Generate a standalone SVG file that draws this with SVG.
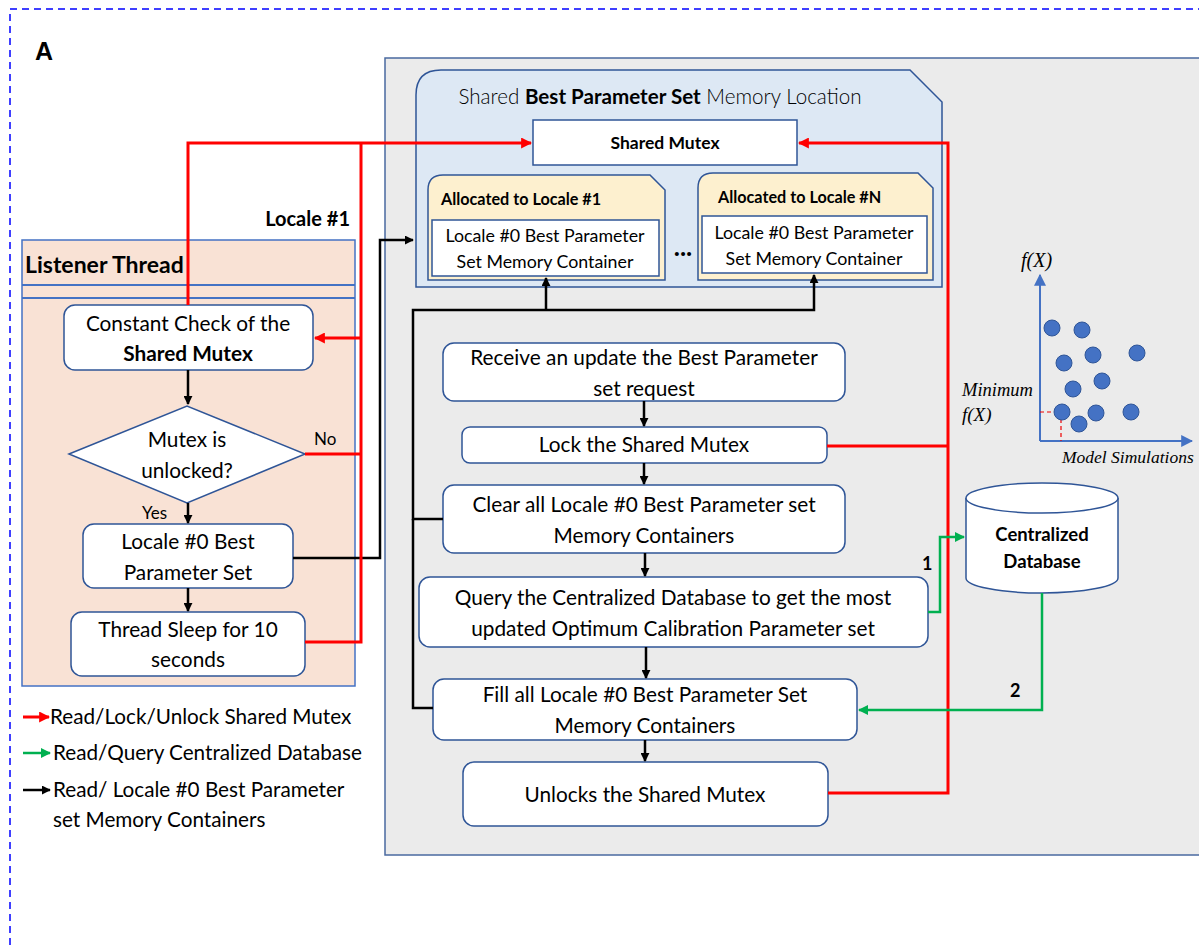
<svg xmlns="http://www.w3.org/2000/svg" width="1199" height="950" viewBox="0 0 1199 950">
<defs>
<marker id="ab" viewBox="0 0 10 10" refX="9" refY="5" markerWidth="9" markerHeight="9" markerUnits="userSpaceOnUse" orient="auto"><path d="M0,0 L10,5 L0,10 Z" fill="#000"/></marker>
<marker id="ar" viewBox="0 0 10 10" refX="9" refY="5" markerWidth="11" markerHeight="11" markerUnits="userSpaceOnUse" orient="auto"><path d="M0,0 L10,5 L0,10 Z" fill="#f00"/></marker>
<marker id="ag" viewBox="0 0 10 10" refX="9" refY="5" markerWidth="10" markerHeight="10" markerUnits="userSpaceOnUse" orient="auto"><path d="M0,0 L10,5 L0,10 Z" fill="#00b050"/></marker>
<marker id="abl" viewBox="0 0 10 10" refX="9" refY="5" markerWidth="12" markerHeight="12" markerUnits="userSpaceOnUse" orient="auto"><path d="M0,0 L10,5 L0,10 Z" fill="#4472c4"/></marker>
</defs>
<style>
text{font-family:Lato,"Liberation Sans",sans-serif;fill:#000}
.t{font-size:20.8px;text-anchor:middle}
.b{font-weight:bold}
.box{fill:#fff;stroke:#2f5597;stroke-width:1.5}
.red{fill:none;stroke:#f00;stroke-width:3}
.blk{fill:none;stroke:#000;stroke-width:2.5}
.grn{fill:none;stroke:#00b050;stroke-width:2.5}
.it{font-family:"Liberation Serif",serif;font-style:italic}
.dot{fill:#4472c4;stroke:#2f5597;stroke-width:1}
</style>
<rect x="0" y="0" width="1199" height="950" fill="#fff"/>
<rect x="10" y="9" width="1250" height="1000" fill="none" stroke="#0000ff" stroke-width="1.5" stroke-dasharray="7,5"/>
<text x="35" y="60" font-size="25" class="b" style="font-family:'Liberation Sans',sans-serif">A</text>

<g id="main-panel">
<rect x="385" y="58" width="830" height="797" fill="#ebebeb" stroke="#4a6aa0" stroke-width="1.5"/>
</g>

<g id="shared-memory">
<path d="M416,95 Q416,70 441,70 L910,70 L942,102 L942,287 L416,287 Z" fill="#dde8f4" stroke="#2f5597" stroke-width="1.5"/>
<text x="660" y="104" font-size="20.6" text-anchor="middle" style="font-weight:300" fill="#222">Shared <tspan class="b" style="font-weight:bold">Best Parameter Set</tspan> Memory Location</text>
</g>
<g id="shared-mutex">
<rect x="533" y="120" width="264" height="45" class="box"/>
<text x="665" y="149" font-size="17.5" class="b" text-anchor="middle">Shared Mutex</text>
</g>
<g id="alloc1">
<path d="M428,190 Q428,175 443,175 L650,175 L665,190 L665,280 L428,280 Z" fill="#fdf0cf" stroke="#2f5597" stroke-width="1.5"/>
<text x="441" y="205" font-size="16.2" class="b">Allocated to Locale #1</text>
<rect x="432" y="220" width="227" height="56" class="box"/>
<text x="545" y="242" font-size="17.8" text-anchor="middle">Locale #0 Best Parameter</text>
<text x="545" y="268" font-size="17.8" text-anchor="middle">Set Memory Container</text>
</g>
<text x="683" y="256" font-size="26" class="b" text-anchor="middle">...</text>
<g id="allocN">
<path d="M698,188 Q698,173 713,173 L918,173 L933,188 L933,280 L698,280 Z" fill="#fdf0cf" stroke="#2f5597" stroke-width="1.5"/>
<text x="718" y="203" font-size="16.2" class="b">Allocated to Locale #N</text>
<rect x="702" y="216" width="225" height="57" class="box"/>
<text x="814" y="239" font-size="17.8" text-anchor="middle">Locale #0 Best Parameter</text>
<text x="814" y="265" font-size="17.8" text-anchor="middle">Set Memory Container</text>
</g>

<text x="350" y="226" font-size="20" class="b" text-anchor="end">Locale #1</text>
<g id="listener-thread">
<rect x="22" y="240" width="333" height="446" fill="#f9e2d5" stroke="#4472c4" stroke-width="1.5"/>
<line x1="22" y1="285" x2="355" y2="285" stroke="#4472c4" stroke-width="2"/>
<line x1="22" y1="298" x2="355" y2="298" stroke="#4472c4" stroke-width="2"/>
<text x="25" y="273" font-size="23" class="b">Listener Thread</text>
</g>

<g id="constant-check">
<rect x="64" y="305" width="249" height="65" rx="11" class="box"/>
<text x="188" y="331" class="t">Constant Check of the</text>
<text x="188" y="361" class="t b">Shared Mutex</text>
</g>
<g id="mutex-decision">
<polygon points="69,454 187,406 305,454 187,503" fill="#fff" stroke="#2f5597" stroke-width="1.5"/>
<text x="187" y="447" class="t">Mutex is</text>
<text x="187" y="478" class="t">unlocked?</text>
<text x="314" y="445" font-size="17">No</text>
<text x="142" y="519" font-size="17">Yes</text>
</g>
<g id="locale0-set">
<rect x="83" y="524" width="210" height="64" rx="11" class="box"/>
<text x="188" y="549" class="t">Locale #0 Best</text>
<text x="188" y="580" class="t">Parameter Set</text>
</g>
<g id="thread-sleep">
<rect x="71" y="612" width="234" height="64" rx="11" class="box"/>
<text x="188" y="637" class="t">Thread Sleep for 10</text>
<text x="188" y="667" class="t">seconds</text>
</g>

<g id="receive">
<rect x="443" y="343" width="402" height="58" rx="11" class="box"/>
<text x="644" y="365" class="t">Receive an update the Best Parameter</text>
<text x="644" y="396" class="t">set request</text>
</g>
<g id="lock">
<rect x="462" y="427" width="365" height="36" rx="8" class="box"/>
<text x="644" y="452" class="t">Lock the Shared Mutex</text>
</g>
<g id="clear">
<rect x="443" y="485" width="402" height="68" rx="11" class="box"/>
<text x="644" y="512" class="t">Clear all Locale #0 Best Parameter set</text>
<text x="644" y="543" class="t">Memory Containers</text>
</g>
<g id="query">
<rect x="419" y="577" width="509" height="70" rx="11" class="box"/>
<text x="673" y="605" class="t">Query the Centralized Database to get the most</text>
<text x="673" y="636" class="t">updated Optimum Calibration Parameter set</text>
</g>
<g id="fill">
<rect x="433" y="679" width="424" height="61" rx="11" class="box"/>
<text x="645" y="702" class="t">Fill all Locale #0 Best Parameter Set</text>
<text x="645" y="733" class="t">Memory Containers</text>
</g>
<g id="unlock">
<rect x="463" y="762" width="365" height="64" rx="11" class="box"/>
<text x="645" y="802" class="t">Unlocks the Shared Mutex</text>
</g>

<g id="database">
<path d="M966,498 L966,578 A76,15 0 0 0 1118,578 L1118,498" fill="#fff" stroke="#2f5597" stroke-width="1.5"/>
<ellipse cx="1042" cy="498" rx="76" ry="15" fill="#fff" stroke="#2f5597" stroke-width="1.5"/>
<text x="1042" y="541" font-size="18.5" class="b" text-anchor="middle">Centralized</text>
<text x="1042" y="568" font-size="18.5" class="b" text-anchor="middle">Database</text>
</g>

<g id="scatter">
<line x1="1040" y1="441" x2="1040" y2="275" stroke="#4472c4" stroke-width="2" marker-end="url(#abl)"/>
<line x1="1040" y1="441" x2="1192" y2="441" stroke="#4472c4" stroke-width="2" marker-end="url(#abl)"/>
<polyline points="1040,412 1061,412 1061,441" fill="none" stroke="#e00" stroke-width="1.2" stroke-dasharray="4,3"/>
<circle cx="1052" cy="328" r="8" class="dot"/>
<circle cx="1082" cy="330" r="8" class="dot"/>
<circle cx="1093" cy="355" r="8" class="dot"/>
<circle cx="1064" cy="363" r="8" class="dot"/>
<circle cx="1137" cy="353" r="8" class="dot"/>
<circle cx="1102" cy="381" r="8" class="dot"/>
<circle cx="1073" cy="389" r="8" class="dot"/>
<circle cx="1062" cy="412" r="8" class="dot"/>
<circle cx="1096" cy="413" r="8" class="dot"/>
<circle cx="1131" cy="412" r="8" class="dot"/>
<circle cx="1079" cy="424" r="8" class="dot"/>
<text x="1021" y="267" font-size="20" class="it">f(X)</text>
<text x="962" y="396" font-size="18.5" class="it">Minimum</text>
<text x="962" y="421" font-size="19" class="it">f(X)</text>
<text x="1062" y="463" font-size="17.5" class="it">Model Simulations</text>
</g>

<g id="connectors">
<line x1="188" y1="370" x2="188" y2="404" class="blk" marker-end="url(#ab)"/>
<line x1="188" y1="503" x2="188" y2="523" class="blk" marker-end="url(#ab)"/>
<line x1="188" y1="588" x2="188" y2="611" class="blk" marker-end="url(#ab)"/>
<line x1="644" y1="401" x2="644" y2="426" class="blk" stroke-width="2" marker-end="url(#ab)"/>
<line x1="644" y1="463" x2="644" y2="484" class="blk" stroke-width="2" marker-end="url(#ab)"/>
<line x1="645" y1="553" x2="645" y2="576" class="blk" stroke-width="2" marker-end="url(#ab)"/>
<line x1="646" y1="647" x2="646" y2="678" class="blk" stroke-width="2" marker-end="url(#ab)"/>
<line x1="645" y1="740" x2="645" y2="761" class="blk" stroke-width="2" marker-end="url(#ab)"/>
<polyline points="293,558 380,558 380,240 413,240" class="blk" marker-end="url(#ab)"/>
<polyline points="443,519 413,519 413,310 814,310 814,275" class="blk" marker-end="url(#ab)"/>
<polyline points="433,708 413,708 413,519" class="blk"/>
<polyline points="546,310 546,278" class="blk" marker-end="url(#ab)"/>
<polyline points="188,305 188,143 531,143" class="red" marker-end="url(#ar)"/>
<polyline points="361,143 361,642 305,642" class="red"/>
<polyline points="361,338 315,338" class="red" marker-end="url(#ar)"/>
<polyline points="305,454 361,454" class="red"/>
<polyline points="827,446 948,446" class="red"/>
<polyline points="828,793 948,793 948,143 799,143" class="red" marker-end="url(#ar)"/>
<polyline points="928,612 940,612 940,537 964,537" class="grn" marker-end="url(#ag)"/>
<polyline points="1042,593 1042,710 859,710" class="grn" marker-end="url(#ag)"/>
<text x="922" y="570" font-size="18" class="b">1</text>
<text x="1010" y="697" font-size="18" class="b">2</text>
</g>

<g id="legend">
<line x1="23" y1="717" x2="49" y2="717" class="red" marker-end="url(#ar)"/>
<text x="50" y="724" font-size="20.7">Read/Lock/Unlock Shared Mutex</text>
<line x1="23" y1="753" x2="50" y2="753" class="grn" stroke-width="3" marker-end="url(#ag)"/>
<text x="53" y="760" font-size="20.7">Read/Query Centralized Database</text>
<line x1="23" y1="790" x2="50" y2="790" class="blk" stroke-width="3" marker-end="url(#ab)"/>
<text x="53" y="797" font-size="20.7">Read/ Locale #0 Best Parameter</text>
<text x="53" y="827" font-size="20.7">set Memory Containers</text>
</g>
</svg>
